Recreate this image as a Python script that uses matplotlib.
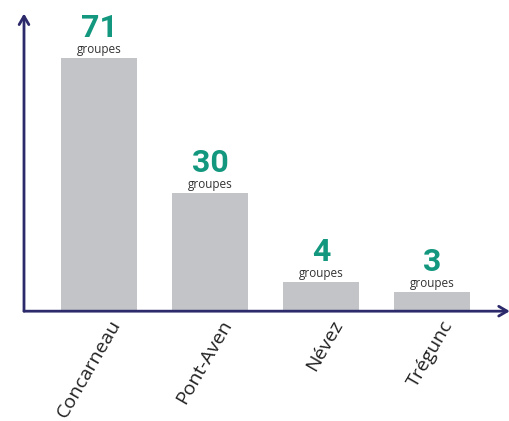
import matplotlib
matplotlib.use("Agg")
import matplotlib.pyplot as plt

# data (bar heights are drawn heights, labels are the counts)
communes = ["Concarneau", "Pont-Aven", "Névez", "Trégunc"]
counts = [71, 30, 4, 3]
bar_heights = [71, 33, 8, 5]

navy = "#2d2a6b"
teal = "#13987f"
grey = "#c3c4c7"

fig = plt.figure(figsize=(5.10, 4.21), dpi=100)
ax = fig.add_axes([24 / 510, (421 - 310) / 421, (505 - 24) / 510, (310 - 15) / 421])

xs = list(range(len(communes)))
ax.bar(xs, bar_heights, width=0.685, color=grey, zorder=1)
ax.set_xlim(-0.676, 3.66)
ax.set_ylim(0, 83)

for x, h, n in zip(xs, bar_heights, counts):
    ax.annotate("groupes", (x, h), xytext=(0, 3.5), textcoords="offset points",
                ha="center", va="baseline", fontsize=8.5, color="#333333",
                family="Open Sans")
    ax.annotate(str(n), (x, h), xytext=(0, 15), textcoords="offset points",
                ha="center", va="baseline", fontsize=23, color=teal,
                family="Roboto", fontweight="bold")

for x, name in zip(xs, communes):
    ax.annotate(name, (x, 0), xytext=(7, -5), textcoords="offset points",
                ha="right", va="top", rotation=60, rotation_mode="anchor",
                fontsize=14, color="#222222", family="Open Sans",
                annotation_clip=False)

for s in ax.spines.values():
    s.set_visible(False)
ax.set_xticks([])
ax.set_yticks([])

arrow = dict(arrowstyle="->,head_length=0.6,head_width=0.35", color=navy, lw=2,
             shrinkA=0, shrinkB=0)
ax.annotate("", xy=(0, 1.005), xytext=(0, -0.004), xycoords="axes fraction",
            arrowprops=arrow, annotation_clip=False)
ax.annotate("", xy=(1.01, -0.004), xytext=(0, -0.004), xycoords="axes fraction",
            arrowprops=arrow, annotation_clip=False)

fig.savefig("out.png", dpi=100)
